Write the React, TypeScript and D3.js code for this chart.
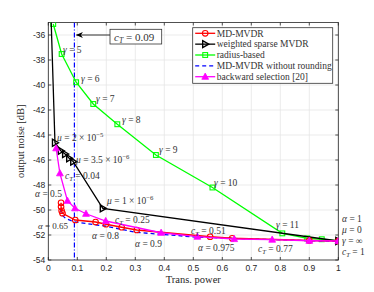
import React from 'react';
import * as d3 from 'd3';

type Pt = [number, number];

// radius-based (green squares)
const radiusPts: Pt[] = [
  [0.017, -35.12], [0.046, -37.52], [0.096, -39.78], [0.155, -41.52], [0.238, -43.14],
  [0.371, -45.6], [0.566, -48.2], [0.807, -51.87], [0.893, -52.27], [0.943, -52.34], [1, -52.48],
];
// weighted sparse MVDR (black, right triangles)
const sparsePts: Pt[] = [
  [0.008, -33.5], [0.023, -44.62], [0.043, -45.26], [0.058, -45.52], [0.072, -45.86],
  [0.086, -46.13], [0.188, -49.87], [1, -52.48],
];
// MD-MVDR (red circles)
const mdPts: Pt[] = [
  [0.044, -49.42], [0.044, -49.74], [0.046, -50.06], [0.049, -50.26], [0.093, -50.8],
  [0.163, -50.96], [0.199, -51.14], [0.253, -51.38], [0.305, -51.6], [0.558, -52.14],
  [0.634, -52.26], [0.9, -52.44], [1, -52.48],
];
// MD-MVDR without rounding (blue dashed)
const relaxPts: Pt[] = [
  [0.042, -49.9], [0.047, -50.4], [0.06, -50.68], [0.09, -50.95], [0.2, -51.3],
  [0.3, -51.78], [0.5, -52.15], [0.7, -52.32], [1, -52.52],
];
// backward selection [20] (magenta triangles)
const backPts: Pt[] = [
  [0.027, -45.06], [0.04, -47.06], [0.066, -49.26], [0.092, -49.86], [0.13, -50.3],
  [0.198, -50.88], [0.389, -51.82], [0.514, -52.13], [0.641, -52.32], [0.772, -52.37],
  [0.9, -52.46], [1, -52.48],
];
const cT = 0.09;

const xTicks = [0, 0.1, 0.2, 0.3, 0.4, 0.5, 0.6, 0.7, 0.8, 0.9, 1];
const yTicks = [-36, -38, -40, -42, -44, -46, -48, -50, -52, -54];

const legendItems = [
  { label: 'MD-MVDR', color: '#ff0000', marker: 'circle', dash: '' },
  { label: 'weighted sparse MVDR', color: '#000000', marker: 'right', dash: '' },
  { label: 'radius-based', color: '#00ff00', marker: 'square', dash: '' },
  { label: 'MD-MVDR without rounding', color: '#0000ff', marker: 'none', dash: '4,3' },
  { label: 'backward selection [20]', color: '#ff00ff', marker: 'up', dash: '' },
];

const W = 374, H = 292;
const L = 48.3, R = 338.3, T = 22.5, B = 260;
const SERIF = '"Liberation Serif", "DejaVu Serif", serif';
const SANS = '"Liberation Sans", Arial, sans-serif';

const Marker = ({ kind, x, y, color }: { kind: string; x: number; y: number; color: string }) => {
  if (kind === 'circle') return <circle cx={x} cy={y} r={2.8} fill="none" stroke={color} strokeWidth={1.1} />;
  if (kind === 'square') return <rect x={x - 2.4} y={y - 2.4} width={4.8} height={4.8} fill="none" stroke={color} strokeWidth={1.1} />;
  if (kind === 'right') return <path d={`M${x + 3.5},${y} L${x - 2.5},${y - 3.5} L${x - 2.5},${y + 3.5} Z`} fill="none" stroke={color} strokeWidth={1.4} />;
  if (kind === 'up') return <path d={`M${x},${y - 3.6} L${x + 3.4},${y + 2.6} L${x - 3.4},${y + 2.6} Z`} fill={color} stroke={color} strokeWidth={0.8} />;
  return null;
};

// math text helper: italic symbol, optional subscript T, rest upright
const Ann = ({ x, y, sym, sub, val, sup, size = 9.5 }: { x: number; y: number; sym: string; sub?: string; val: string; sup?: string; size?: number }) => (
  <text x={x} y={y} fontFamily={SERIF} fontSize={size} fill="#333">
    <tspan fontStyle="italic">{sym}</tspan>
    {sub && <tspan fontStyle="italic" fontSize={size * 0.7} dy={2}>{sub}</tspan>}
    <tspan dy={sub ? -2 : 0}>{` = ${val}`}</tspan>
    {sup && <tspan fontSize={size * 0.7} dy={-4}>{sup}</tspan>}
  </text>
);

export default function App() {
  const x = d3.scaleLinear().domain([0, 1]).range([L, R]);
  const y = d3.scaleLinear().domain([-54, -35]).range([B, T]);
  const line = d3.line<Pt>().x(d => x(d[0])).y(d => y(d[1]));

  const series = [
    { pts: radiusPts, color: '#00ff00', marker: 'square', dash: '' },
    { pts: sparsePts, color: '#000000', marker: 'right', dash: '' },
    { pts: relaxPts, color: '#0000ff', marker: 'none', dash: '4,3' },
    { pts: mdPts, color: '#ff0000', marker: 'circle', dash: '' },
    { pts: backPts, color: '#ff00ff', marker: 'up', dash: '' },
  ];

  const legX = 192.7, legY = 27.7, legW = 140, legH = 55.6;

  return (
    <div style={{ position: 'absolute', left: 0, top: 0 }}>
      <svg width={W} height={H} style={{ display: 'block', background: '#fff' }}>
        <defs>
          <clipPath id="plot"><rect x={L} y={T} width={R - L} height={B - T} /></clipPath>
        </defs>
        {/* grid */}
        {xTicks.map(t => <line key={'gx' + t} x1={x(t)} x2={x(t)} y1={T} y2={B} stroke="#e6e6e6" strokeWidth={0.8} />)}
        {yTicks.map(t => <line key={'gy' + t} x1={L} x2={R} y1={y(t)} y2={y(t)} stroke="#e6e6e6" strokeWidth={0.8} />)}
        {/* box */}
        <rect x={L} y={T} width={R - L} height={B - T} fill="none" stroke="#262626" strokeWidth={0.8} />
        {xTicks.map(t => (
          <g key={'tx' + t}>
            <line x1={x(t)} x2={x(t)} y1={B} y2={B - 3} stroke="#262626" strokeWidth={0.8} />
            <line x1={x(t)} x2={x(t)} y1={T} y2={T + 3} stroke="#262626" strokeWidth={0.8} />
            <text x={x(t)} y={B + 11} textAnchor="middle" fontFamily={SANS} fontSize={8.5} fill="#262626">{t}</text>
          </g>
        ))}
        {yTicks.map(t => (
          <g key={'ty' + t}>
            <line x1={L} x2={L + 3} y1={y(t)} y2={y(t)} stroke="#262626" strokeWidth={0.8} />
            <line x1={R} x2={R - 3} y1={y(t)} y2={y(t)} stroke="#262626" strokeWidth={0.8} />
            <text x={L - 3} y={y(t) + 3} textAnchor="end" fontFamily={SANS} fontSize={8.5} fill="#262626">{t}</text>
          </g>
        ))}
        <text x={(L + R) / 2} y={283} textAnchor="middle" fontFamily={SERIF} fontSize={10.5} fill="#262626">Trans.  power</text>
        <text transform={`translate(24,${(T + B) / 2}) rotate(-90)`} textAnchor="middle" fontFamily={SERIF} fontSize={10.5} fill="#262626">output noise [dB]</text>

        <g clipPath="url(#plot)">
          {/* c_T vertical */}
          <line x1={x(cT)} x2={x(cT)} y1={T} y2={B} stroke="#0000ff" strokeWidth={1.2} strokeDasharray="5,2,1,2" />
          {series.map((s, i) => (
            <g key={i}>
              <path d={line(s.pts) || ''} fill="none" stroke={s.color} strokeWidth={1.3} strokeDasharray={s.dash} />
              {s.pts.map((p, j) => <Marker key={j} kind={s.marker} x={x(p[0])} y={y(p[1])} color={s.color} />)}
            </g>
          ))}
        </g>

        {/* c_T = 0.09 annotation */}
        <line x1={110} x2={x(cT) + 2} y1={y(-36)} y2={y(-36)} stroke="#000" strokeWidth={0.8} />
        <path d={`M${x(cT) + 1.5},${y(-36)} l7,-3 l-2,3 l2,3 Z`} fill="#000" />
        <rect x={110} y={29.3} width={51.7} height={14.7} fill="#fff" stroke="#333" strokeWidth={0.8} />
        <Ann x={114} y={40.5} sym="c" sub="T" val="0.09" size={11} />

        {/* annotations */}
        <Ann x={63} y={53} sym="γ" val="5" />
        <Ann x={81} y={82} sym="γ" val="6" />
        <Ann x={96} y={102} sym="γ" val="7" />
        <Ann x={122} y={123} sym="γ" val="8" />
        <Ann x={159} y={153} sym="γ" val="9" />
        <Ann x={214} y={186} sym="γ" val="10" />
        <Ann x={276} y={228} sym="γ" val="11" />
        <Ann x={57} y={141} sym="μ" val="2 × 10" sup="−5" />
        <Ann x={76} y={163} sym="μ" val="3.5 × 10" sup="−6" />
        <Ann x={65} y={179} sym="c" sub="T" val="0.04" />
        <Ann x={35} y={197} sym="α" val="0.5" />
        <Ann x={107} y={204} sym="μ" val="1 × 10" sup="−6" />
        <Ann x={115} y={223} sym="c" sub="T" val="0.25" />
        <Ann x={38} y={229} sym="α" val="0.65" size={9} />
        <Ann x={92} y={239} sym="α" val="0.8" />
        <Ann x={135} y={247} sym="α" val="0.9" />
        <Ann x={191} y={234} sym="c" sub="T" val="0.51" />
        <Ann x={198} y={251} sym="α" val="0.975" />
        <Ann x={258} y={252} sym="c" sub="T" val="0.77" />
        <Ann x={342} y={222} sym="α" val="1" />
        <Ann x={342} y={233} sym="μ" val="0" />
        <Ann x={342} y={244} sym="γ" val="∞" />
        <Ann x={342} y={255} sym="c" sub="T" val="1" />

        {/* legend */}
        <rect x={legX} y={legY} width={legW} height={legH} fill="#fff" stroke="#333" strokeWidth={0.8} />
        {legendItems.map((it, i) => {
          const cy = 33.3 + i * 10.85;
          return (
            <g key={it.label}>
              <line x1={legX + 2.5} x2={legX + 22.5} y1={cy} y2={cy} stroke={it.color} strokeWidth={1.3} strokeDasharray={it.dash} />
              <Marker kind={it.marker} x={legX + 12.5} y={cy} color={it.color} />
              <text x={legX + 24} y={cy + 3.2} fontFamily={SERIF} fontSize={9.5} fill="#333">{it.label}</text>
            </g>
          );
        })}
      </svg>
    </div>
  );
}
